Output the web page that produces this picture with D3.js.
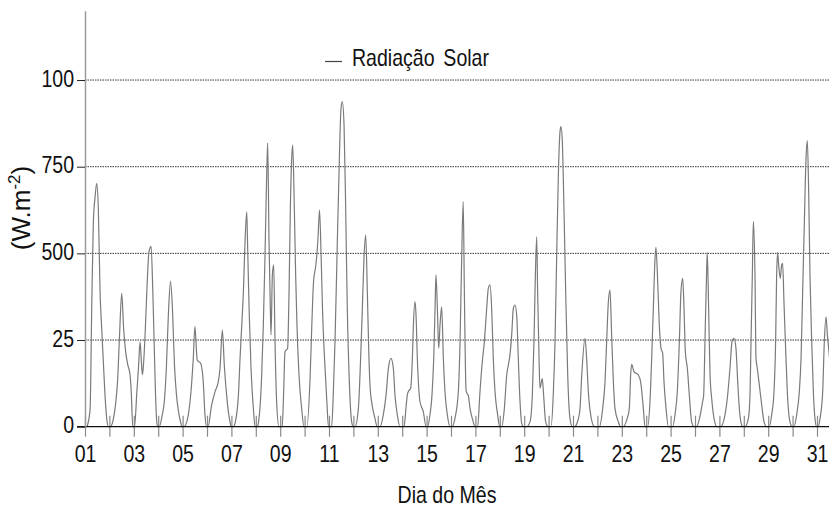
<!DOCTYPE html>
<html>
<head>
<meta charset="utf-8">
<script src="https://cdn.jsdelivr.net/npm/d3@7"></script>
<style>
  body { margin: 0; background: #fff; }
  svg { display: block; }
  text { font-family: "Liberation Sans", Arial, sans-serif; fill: #111; }
</style>
</head>
<body>
<svg id="viz"></svg>
<script>
/* Data */

// day-of-month tick labels (only odd days carry a label)
const labelDays = [1, 3, 5, 7, 9, 11, 13, 15, 17, 19, 21, 23, 25, 27, 29, 31];
const labelTexts = ["01", "03", "05", "07", "09", "11", "13", "15", "17", "19", "21", "23", "25", "27", "29", "31"];

// y ticks as printed on the original
const yTickValues = [0, 250, 500, 750, 1000];
const yTickLabels = ["0", "25", "500", "750", "100"];

const seriesName = "Radiação Solar";

// solar radiation traced per day: [hour of day, W/m2]
const radiation = [
  [[2,0],[5,50],[6.6,340],[8.2,590],[10,665],[11.5,702],[13.1,630],[14.8,390],[16.4,285],[18,190],[19.7,90],[21.5,20],[23,0]],
  [[1,0],[4,24],[6,63],[8,130],[10,265],[12.1,385],[14,284],[16,216],[18,180],[20.3,150],[21.5,100],[23,0]],
  [[0.7,0],[3,100],[4.6,170],[6.2,245],[7.2,200],[8.5,150],[9.5,178],[11.1,265],[12.8,390],[15,505],[17,520],[18.7,390],[20,245],[21.3,100],[22.6,14],[23.5,0]],
  [[1,0],[4,34],[6,72],[8,168],[10,322],[12.1,420],[14,341],[16,178],[18,91],[20,43],[22,14],[23.3,0]],
  [[1.5,0],[5.6,34],[8.2,100],[10.5,197],[12.1,289],[14.4,192],[17.7,183],[20.3,130],[22,34],[23.5,0]],
  [[1,0],[4.6,63],[7.9,101],[11.1,130],[12.8,168],[15.1,279],[17,178],[19.3,91],[22.6,14],[23.8,0]],
  [[2,0],[3.6,10],[6.9,91],[8.5,197],[10.2,293],[11.8,390],[13.4,534],[15.1,620],[16,515],[17.4,341],[19.3,168],[21.6,53],[23.3,0]],
  [[1.5,0],[2.5,10],[5.8,149],[7.4,293],[9,486],[10.7,726],[11.7,818],[13,534],[14.3,341],[15,265],[16.3,438],[17.6,467],[18.9,245],[20.5,72],[22.8,0]],
  [[2,0],[3.4,101],[4.7,216],[7.3,226],[8.7,390],[10,630],[11.3,774],[12.3,813],[13.9,630],[15.2,438],[16.5,293],[18.5,149],[21.1,53],[23.4,0]],
  [[2.2,0],[5.5,149],[7.1,293],[8.8,418],[11.1,467],[13,534],[14.7,625],[16.3,486],[17.6,341],[19.6,197],[21.9,72],[23.5,0]],
  [[2.6,0],[4.3,101],[5.9,245],[8.2,534],[10.2,774],[11.8,918],[13.1,938],[14.8,870],[16.4,630],[18,341],[20,130],[22.3,14],[23.9,0]],
  [[1.6,0],[4.9,53],[7.1,197],[8.8,341],[10.4,486],[12.1,553],[13.7,390],[15.3,197],[16.5,110],[18,70],[21.2,24],[23.5,0]],
  [[2.2,0],[5.4,34],[8.1,91],[10.4,168],[13,197],[15.3,168],[16.9,91],[19.2,34],[21.8,0]],
  [[1.8,0],[3.7,53],[5,91],[6,101],[8.3,111],[10,197],[11,293],[12.6,361],[13.6,322],[14.9,197],[17.5,72],[20.8,43],[23.5,0]],
  [[1,0],[3.3,34],[5.3,91],[7,197],[8.3,341],[9.2,438],[10.6,341],[11.9,226],[13.2,293],[14.8,346],[16.5,197],[18.1,101],[20.4,34],[23,0]],
  [[1,0],[3.9,24],[7.2,101],[8.9,245],[10.5,486],[12,649],[13.1,400],[13.8,245],[14.8,105],[16,95],[17,90],[18.7,53],[21.9,14],[23.5,0]],
  [[2.2,0],[4.5,101],[6.8,188],[8.8,245],[11.1,341],[12.7,399],[14.4,409],[16,341],[17.6,197],[19.3,101],[21.9,34],[23.9,0]],
  [[1.8,0],[4.5,53],[6.8,149],[8.4,178],[10,207],[11.7,265],[13.3,341],[15,351],[16.6,322],[18.2,197],[19.9,72],[21.5,10],[23,0]],
  [[2.4,0],[5.7,14],[8,91],[9.6,245],[11,438],[12.3,548],[13.2,390],[14.6,197],[15.5,111],[17.8,139],[19.1,91],[21.1,14],[23.7,0]],
  [[2.4,0],[4.7,101],[6.3,245],[7.9,486],[9.6,726],[11.2,851],[12.2,866],[13.5,822],[15.1,630],[16.8,390],[18.8,149],[21,24],[23.4,0]],
  [[1.5,0],[5,20],[6.9,53],[8.6,149],[11.8,255],[13.4,197],[15.1,101],[17.4,34],[21,0]],
  [[1.9,0],[5.2,53],[7.5,130],[9.1,245],[10.8,361],[12.4,394],[14,265],[15.7,130],[17.3,53],[20.6,14],[22.9,0]],
  [[1.5,0],[4.8,19],[7.4,53],[8.7,149],[9.7,180],[12,159],[16.3,149],[18.5,130],[21.2,53],[22.8,0]],
  [[1.4,0],[3.7,72],[5.4,197],[7,341],[8.7,486],[9.6,517],[11.3,418],[12.9,293],[14.6,226],[16.2,212],[17.5,130],[19.5,53],[21.8,0]],
  [[2,0],[4.3,34],[6.6,101],[8.6,245],[10.2,390],[11.9,428],[13.2,341],[14.5,216],[16.5,168],[18.4,91],[20.7,14],[23,0]],
  [[1.5,0],[4.9,30],[7.5,72],[8.5,90],[9.8,245],[11.5,457],[12.1,502],[13.4,341],[14.8,149],[16.4,82],[18.7,24],[21.5,0]],
  [[1.2,0],[5.5,34],[7.8,82],[10.4,168],[12.4,245],[14.4,255],[16.3,226],[18,130],[19.6,53],[21.9,5],[23.5,0]],
  [[1.2,0],[4.5,24],[6.1,91],[7.1,245],[8.4,438],[9.4,592],[11,438],[12,197],[13.3,168],[15.3,120],[17.6,63],[19.9,14],[22.5,0]],
  [[1.1,0],[3.4,34],[5.7,101],[7.3,245],[8.3,438],[9.3,502],[10.3,466],[11.9,428],[13.2,466],[14.2,471],[15.5,361],[16.9,245],[18.8,101],[21.4,14],[23.7,0]],
  [[1.4,0],[4,34],[6.6,101],[8.3,197],[9.9,390],[11.5,582],[13.2,774],[14.5,825],[15.8,678],[17.1,438],[18.8,245],[20.4,101],[22,24],[23.7,0]],
  [[1.2,0],[3,24],[5.6,101],[7.2,245],[8.9,317],[10.2,265],[11.8,216],[14,150],[17,60],[20,10],[22,0]]
];

/* Environment */

const width = 829;
const height = 509;
const sx = 0.85;          // the original text is horizontally condensed
const fontSize = 23;

const svg = d3.select("#viz")
    .attr("width", width)
    .attr("height", height);

/* Scales */

const nDays = radiation.length;

const x = d3.scaleLinear()
    .domain([0, nDays * 24])
    .range([85, 85 + nDays * 24.4]);

const y = d3.scaleLinear()
    .domain([0, 1200])
    .range([426.7, 10.7]);

const points = radiation.flatMap((day, i) => day.map(([h, v]) => ({t: i * 24 + h, v: v})));

/* Layers */

const gGrid = svg.append("g");
const gLine = svg.append("g");
const gXAxis = svg.append("g");
const gYAxis = svg.append("g");
const gText = svg.append("g");

/* Grid */

gGrid.selectAll("line.grid")
    .data(yTickValues.filter(d => d > 0))
    .enter().append("line")
    .attr("class", "grid")
    .attr("x1", x(0))
    .attr("x2", width)
    .attr("y1", d => y(d))
    .attr("y2", d => y(d))
    .attr("stroke", "#333")
    .attr("stroke-width", 1)
    .attr("stroke-dasharray", "1.5,1");

/* Line */

const line = d3.line()
    .x(d => x(d.t))
    .y(d => y(d.v))
    .curve(d3.curveMonotoneX);

gLine.append("path")
    .datum(points)
    .attr("fill", "none")
    .attr("stroke", "#7a7a7a")
    .attr("stroke-width", 1.2)
    .attr("d", line);

/* X axis */

const dayStarts = d3.range(0, nDays).map(i => i * 24);

gXAxis
    .attr("transform", `translate(0,${y(0)})`)
    .call(d3.axisBottom(x)
        .tickValues(dayStarts)
        .tickSize(10)
        .tickFormat(t => {
          const k = labelDays.indexOf(t / 24 + 1);
          return k >= 0 ? labelTexts[k] : "";
        }))
    .call(g => g.select(".domain").remove());

gXAxis.selectAll(".tick line")
    .attr("y1", -11)
    .attr("stroke", "#8a8a8a")
    .attr("stroke-width", 1.2);

gXAxis.selectAll(".tick text")
    .attr("font-size", fontSize)
    .attr("font-family", null)
    .attr("y", 35)
    .attr("dy", 0)
    .attr("transform", `scale(${sx},1)`);

gXAxis.append("line")
    .attr("x1", 77)
    .attr("x2", width)
    .attr("stroke", "#111")
    .attr("stroke-width", 1.3);

/* Y axis */

gYAxis
    .attr("transform", `translate(${x(0)},0)`)
    .call(d3.axisLeft(y)
        .tickValues(yTickValues)
        .tickFormat((d, i) => yTickLabels[i])
        .tickSize(8)
        .tickSizeOuter(0));

gYAxis.select(".domain")
    .attr("stroke", "#9a9a9a")
    .attr("stroke-width", 1.5);

gYAxis.selectAll(".tick line")
    .attr("stroke", "#222");

gYAxis.selectAll(".tick text")
    .attr("font-size", fontSize)
    .attr("font-family", null)
    .attr("x", -11 / sx)
    .attr("dy", "0.27em")
    .attr("transform", `scale(${sx},1)`);

/* Titles and legend */

gText.append("text")
    .attr("transform", `translate(447,503) scale(${sx},1)`)
    .attr("text-anchor", "middle")
    .attr("font-size", fontSize)
    .text("Dia do Mês");

const yTitle = gText.append("text")
    .attr("transform", "translate(30,208) rotate(-90)")
    .attr("text-anchor", "middle")
    .attr("font-size", 26);
yTitle.append("tspan").text("(W.m");
yTitle.append("tspan").attr("font-size", 17).attr("dy", -10).text("-2");
yTitle.append("tspan").attr("dy", 10).text(")");

gText.append("line")
    .attr("x1", 325)
    .attr("x2", 342)
    .attr("y1", 61.5)
    .attr("y2", 61.5)
    .attr("stroke", "#444")
    .attr("stroke-width", 1.2);

gText.append("text")
    .attr("transform", `translate(352,66) scale(${sx},1)`)
    .attr("font-size", fontSize)
    .attr("word-spacing", 4)
    .text(seriesName);
</script>
</body>
</html>
